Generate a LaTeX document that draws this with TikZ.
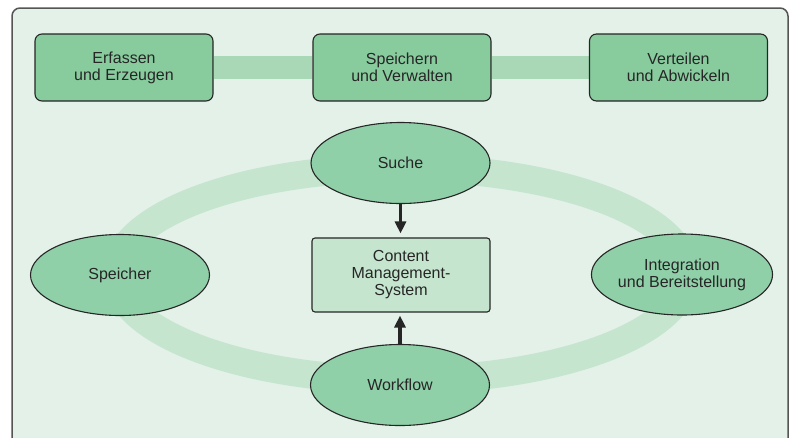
\documentclass[tikz,border=0pt]{standalone}
\usepackage{fontspec}
\setmainfont{Liberation Sans}
\usetikzlibrary{shapes.geometric,arrows.meta}
\pgfdeclarelayer{back}
\pgfdeclarelayer{bands}
\pgfsetlayers{back,bands,main}
\definecolor{bgfill}{HTML}{E3F1E8}
\definecolor{frameline}{HTML}{555555}
\definecolor{boxfill}{HTML}{88CC9E}
\definecolor{ellfill}{HTML}{90D0A8}
\definecolor{cmsfill}{HTML}{C5E5CE}
\definecolor{bandtop}{HTML}{A8D8B6}
\definecolor{ring}{HTML}{C5E5CE}
\definecolor{ink}{HTML}{262626}
\tikzset{
  txt/.style={font=\fontsize{16}{17}\selectfont, text=ink, align=center},
  topbox/.style={txt, draw=ink, line width=1.1pt, fill=boxfill, rounded corners=7pt,
    minimum width=178pt, minimum height=67pt, inner sep=0pt},
  ellnode/.style={txt, ellipse, draw=ink, line width=1.1pt, fill=ellfill,
    minimum width=179pt, minimum height=81pt, inner sep=0pt},
  cmsbox/.style={txt, draw=ink, line width=1.1pt, fill=cmsfill, rounded corners=3pt,
    minimum width=178pt, minimum height=74pt, inner sep=0pt},
  flow/.style={draw=ink, line width=3.2pt, -{Triangle[length=12pt,width=11pt]}},
}
\begin{document}
\begin{tikzpicture}[x=1pt,y=-1pt]
\useasboundingbox (0,0) rectangle (795,437);
\begin{pgfonlayer}{back}
  \clip (0,0) rectangle (795,437);
  \draw[frameline, line width=1.5pt, fill=bgfill, rounded corners=8pt] (12,8) rectangle (788,460);
\end{pgfonlayer}
\node[topbox] (b1) at (124,67.5) {Erfassen\\und Erzeugen};
\node[topbox] (b2) at (402,67.5) {Speichern\\und Verwalten};
\node[topbox] (b3) at (678.5,67.5) {Verteilen\\und Abwickeln};
\coordinate (rc) at (401,274);
\node[cmsbox] (cms) at (401,275) {Content\\Management-\\System};
\node[ellnode] (suche) at (400.5,163) {Suche};
\node[ellnode] (wf) at (400,385) {Workflow};
\node[ellnode] (sp) at (120,275) {Speicher};
\node[ellnode] (int) at (682,274.5) {Integration\\und Bereitstellung};
\begin{pgfonlayer}{bands}
  \draw[bandtop, line width=23pt] (b1.east) -- (b2.west);
  \draw[bandtop, line width=23pt] (b2.east) -- (b3.west);
  \draw[ring, line width=28pt] (rc) ellipse [x radius=285, y radius=106];
\end{pgfonlayer}
\draw[flow, shorten >=4pt] (suche.south) -- (suche.south |- cms.north);
\draw[flow, shorten >=3pt] (wf.north) -- (wf.north |- cms.south);
\end{tikzpicture}
\end{document}
